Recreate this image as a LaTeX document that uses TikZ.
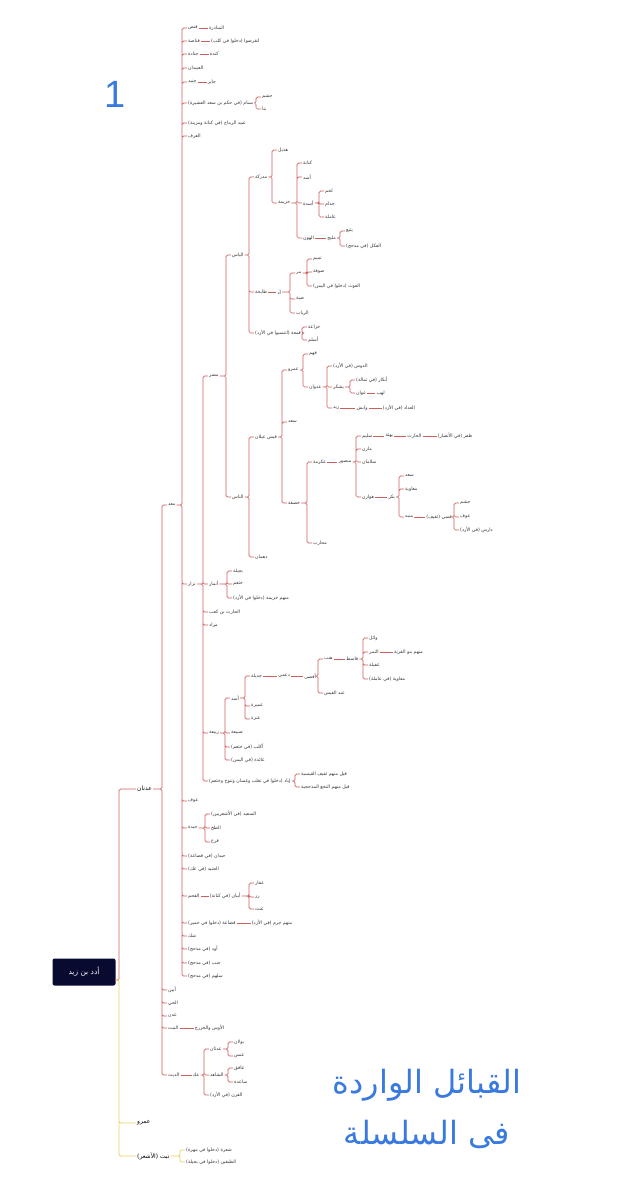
\documentclass[tikz,border=0pt]{standalone}
\usepackage{fontspec}
\newfontfamily\arabicfont[Script=Arabic]{DejaVu Sans}
\newfontfamily\latinfont{Liberation Sans}
\TeXXeTstate=1
\usetikzlibrary{positioning}
\definecolor{TRed}{RGB}{204,96,92}
\definecolor{TYellow}{RGB}{232,210,100}
\definecolor{TNavy}{RGB}{8,10,48}
\definecolor{TBlue}{RGB}{58,122,222}
\newcommand{\ar}[1]{\beginR#1\endR}
\tikzset{
	link/.style={draw=TRed, line width=0.7pt, rounded corners=1.5pt},
	ylink/.style={draw=TYellow, line width=0.9pt, rounded corners=1.5pt},
	lab/.style={anchor=west, inner sep=1pt, text=black!80, font=\arabicfont\fontsize{4.7}{5}\selectfont},
	toplab/.style={anchor=west, inner sep=1pt, text=black, font=\arabicfont\fontsize{6}{7}\selectfont},
	rootbox/.style={fill=TNavy, rounded corners=2pt, minimum width=63pt, minimum height=27pt, text=white, font=\arabicfont\fontsize{7.5}{9}\selectfont},
	title/.style={text=TBlue, font=\arabicfont\fontsize{32}{38}\selectfont}
}
\begin{document}
\begin{tikzpicture}[x=1pt, y=-1pt, node distance=11pt]
	\fill[white] (0,0) rectangle (634,1200);
	\useasboundingbox (0,0) rectangle (634,1200);
	\node[text=TBlue, font=\latinfont\fontsize{38}{40}\selectfont] (num) at (115,94) {1};
	\node[title] (t1) at (427,1085) {\ar{القبائل الواردة}};
	\node[title] (t2) at (427,1134) {\ar{فى السلسلة}};
	% root
	\node[rootbox] (root) at (84,972) {\ar{أدد بن زيد}};
	\node[toplab] (adnan) at (136,789) {\ar{عدنان}};
	\node[toplab] (amr0) at (136,1123) {\ar{عمرو}};
	\node[toplab] (nabt) at (136,1156) {\ar{نبت (الأشعر)}};
	\node[lab] (shara) at (185,1150) {\ar{شعرة (دخلوا في مهرة)}};
	\node[lab] (tabaq) at (185,1162) {\ar{الطبقين (دخلوا في بجيلة)}};
	% adnan
	\node[lab] (maad) at (167,505) {\ar{معد}};
	\node[lab] (abyan) at (167,990) {\ar{أبين}};
	\node[lab] (hayy) at (167,1003) {\ar{الحي}};
	\node[lab] (adan) at (167,1016) {\ar{عدن}};
	\node[lab] (nbt) at (167,1028) {\ar{النبت}};
	\node[lab, right=14pt of nbt] (aws) {\ar{الأوس والخزرج}};
	\node[lab] (dith) at (167,1075) {\ar{الديث}};
	\node[lab, right=of dith] (akk) {\ar{عك}};
	\node[lab] (adthan) at (209,1049) {\ar{عدثان}};
	\node[lab] (shahid) at (209,1075) {\ar{الشاهد}};
	\node[lab] (qarn) at (209,1095) {\ar{القرن (في الأزد)}};
	\node[lab] (bawlan) at (233,1042) {\ar{بولان}};
	\node[lab] (ans) at (233,1056) {\ar{عنس}};
	\node[lab] (ghafiq) at (233,1068) {\ar{غافق}};
	\node[lab] (saida) at (233,1082) {\ar{ساعدة}};
	% maad
	\node[lab] (qunus) at (187,28) {\ar{قنص}};
	\node[lab, right=9pt of qunus] (mnadhira) {\ar{المناذرة}};
	\node[lab] (qunasa) at (187,41) {\ar{قناصة}};
	\node[lab, right=9pt of qunasa] (kalb) {\ar{انقرضوا (دخلوا في كلب)}};
	\node[lab] (janada) at (187,54) {\ar{جنادة}};
	\node[lab, right=9pt of janada] (kinda) {\ar{كندة}};
	\node[lab] (ubaydan) at (187,68) {\ar{العبيدان}};
	\node[lab] (junayd) at (187,82) {\ar{جنيد}};
	\node[lab, right=9pt of junayd] (jabir) {\ar{جابر}};
	\node[lab] (sanam) at (187,103) {\ar{سنام (في حكم بن سعد العشيرة)}};
	\node[lab] (jusham) at (261,97) {\ar{جشم}};
	\node[lab] (bana) at (261,109) {\ar{بنا}};
	\node[lab] (ubayd) at (187,123) {\ar{عبيد الرماح (في كنانة ومزينة)}};
	\node[lab] (urf) at (187,136) {\ar{العرف}};
	\node[lab] (nizar) at (187,584) {\ar{نزار}};
	\node[lab] (awf) at (187,801) {\ar{عوف}};
	\node[lab] (hayda) at (187,828) {\ar{حيدة}};
	\node[lab] (saeed) at (210,814) {\ar{السعيد (في الأشعريين)}};
	\node[lab] (takh) at (210,828) {\ar{الطخ}};
	\node[lab] (qara) at (210,842) {\ar{قرع}};
	\node[lab] (haydan) at (187,856) {\ar{حيدان (في قضاعة)}};
	\node[lab] (jnayd) at (187,869) {\ar{الجنيد (في عك)}};
	\node[lab] (qahm) at (187,896) {\ar{القحم}};
	\node[lab, right=8pt of qahm] (abyanq) {\ar{أبيان (في كنانة)}};
	\node[lab] (ghifar) at (254,883) {\ar{غفار}};
	\node[lab] (razz) at (254,897) {\ar{رز}};
	\node[lab] (ghanth) at (254,909) {\ar{غنث}};
	\node[lab] (qudaa) at (187,923) {\ar{قضاعة (دخلوا في حمير)}};
	\node[lab, right=14pt of qudaa] (jarm) {\ar{منهم جرم (في الأزد)}};
	\node[lab] (shakk) at (187,936) {\ar{شك}};
	\node[lab] (awd) at (187,949) {\ar{أود (في مذحج)}};
	\node[lab] (janb) at (187,963) {\ar{جنب (في مذحج)}};
	\node[lab] (salham) at (187,976) {\ar{سلهم (في مذحج)}};
	% nizar
	\node[lab] (mudar) at (208,376) {\ar{مضر}};
	\node[lab] (anmar) at (208,584) {\ar{أنمار}};
	\node[lab] (bajila) at (232,571) {\ar{بجيلة}};
	\node[lab] (khatham) at (232,584) {\ar{خثعم}};
	\node[lab] (khuzaymaA) at (232,598) {\ar{منهم خزيمة (دخلوا في الأزد)}};
	\node[lab] (harithk) at (208,612) {\ar{الحارث بن كعب}};
	\node[lab] (murad) at (208,625) {\ar{مراد}};
	\node[lab] (rabia) at (208,733) {\ar{ربيعة}};
	\node[lab] (iyad) at (208,781) {\ar{إياد (دخلوا في تغلب وغسان وتنوخ وخثعم)}};
	\node[lab] (qilth) at (300,774) {\ar{قيل منهم ثقيف القيسية}};
	\node[lab] (qiln) at (300,787) {\ar{قيل منهم النخع المذحجية}};
	% rabia
	\node[lab] (asadr) at (230,698) {\ar{أسد}};
	\node[lab] (dubaya) at (230,733) {\ar{ضبيعة}};
	\node[lab] (aklub) at (230,747) {\ar{أكلب (في خثعم)}};
	\node[lab] (aidha) at (230,760) {\ar{عائذة (في اليمن)}};
	\node[lab] (jadila) at (250,676) {\ar{جديلة}};
	\node[lab] (umayra) at (250,706) {\ar{عميرة}};
	\node[lab] (anaza) at (250,719) {\ar{عنزة}};
	\node[lab, right=14pt of jadila] (dumi) {\ar{دعمي}};
	\node[lab, right=12pt of dumi] (afsa) {\ar{أفصى}};
	\node[lab] (hinb) at (323,659) {\ar{هنب}};
	\node[lab] (abdq) at (323,693) {\ar{عبد القيس}};
	\node[lab, right=11pt of hinb] (qasit) {\ar{قاسط}};
	\node[lab] (wail) at (368,638) {\ar{وائل}};
	\node[lab] (namir) at (368,652) {\ar{النمر}};
	\node[lab] (ghufayla) at (368,665) {\ar{غفيلة}};
	\node[lab] (muawq) at (368,679) {\ar{معاوية (في عاملة)}};
	\node[lab, right=13pt of namir] (qarya) {\ar{منهم بنو القرية}};
	% mudar
	\node[lab] (ilyas) at (231,255) {\ar{الياس}};
	\node[lab] (nas) at (231,497) {\ar{الناس}};
	\node[lab] (mudrika) at (254,177) {\ar{مدركة}};
	\node[lab] (tabikha) at (254,292) {\ar{طابخة}};
	\node[lab] (qama) at (254,333) {\ar{قمعة (انتسبوا في الأزد)}};
	\node[lab] (hudhayl) at (277,150) {\ar{هذيل}};
	\node[lab] (khuzayma) at (277,203) {\ar{خزيمة}};
	\node[lab] (kinana) at (302,163) {\ar{كنانة}};
	\node[lab] (asad) at (302,177) {\ar{أسد}};
	\node[lab] (asada) at (302,203) {\ar{أسدة}};
	\node[lab] (hun) at (302,238) {\ar{الهون}};
	\node[lab] (lakhm) at (324,191) {\ar{لخم}};
	\node[lab] (judham) at (324,204) {\ar{جذام}};
	\node[lab] (amila) at (324,217) {\ar{عاملة}};
	\node[lab, right=of hun] (mulayh) {\ar{مليح}};
	\node[lab] (yuthay) at (345,231) {\ar{يثيع}};
	\node[lab] (akl) at (345,246) {\ar{العكل (في مذحج)}};
	\node[lab, right=8pt of tabikha] (udd) {\ar{أد}};
	\node[lab] (murr) at (295,273) {\ar{مر}};
	\node[lab] (dabba) at (295,299) {\ar{ضبة}};
	\node[lab] (ribab) at (295,313) {\ar{الرباب}};
	\node[lab] (tamim) at (312,259) {\ar{تميم}};
	\node[lab] (sufa) at (312,272) {\ar{صوفة}};
	\node[lab] (ghawth) at (312,286) {\ar{الغوث (دخلوا في اليمن)}};
	\node[lab] (khuzaa) at (307,327) {\ar{خزاعة}};
	\node[lab] (aslam) at (307,340) {\ar{أسلم}};
	% nas
	\node[lab] (qays) at (254,437) {\ar{قيس عيلان}};
	\node[lab] (duhman) at (254,557) {\ar{دهمان}};
	\node[lab] (amr) at (287,370) {\ar{عمرو}};
	\node[lab] (saad) at (287,422) {\ar{سعد}};
	\node[lab] (khasafa) at (287,503) {\ar{خصفة}};
	\node[lab] (fahm) at (308,354) {\ar{فهم}};
	\node[lab] (adwan) at (308,387) {\ar{عدوان}};
	\node[lab] (daws) at (332,366) {\ar{الدوس (في الأزد)}};
	\node[lab] (yashkur) at (332,387) {\ar{يشكر}};
	\node[lab] (zayd) at (332,408) {\ar{زيد}};
	\node[lab] (abkar) at (355,380) {\ar{أبكار (في ثمالة)}};
	\node[lab] (awan) at (355,393) {\ar{عوان}};
	\node[lab, right=8pt of awan] (lahab) {\ar{لهب}};
	\node[lab, right=15pt of zayd] (wabish) {\ar{وابش}};
	\node[lab, right=13pt of wabish] (adad) {\ar{العداد (في الأزد)}};
	\node[lab] (ikrima) at (312,462) {\ar{عكرمة}};
	\node[lab] (muharib) at (312,543) {\ar{محارب}};
	\node[lab, right=10pt of ikrima] (mansur) {\ar{منصور}};
	\node[lab] (sulaym) at (361,436) {\ar{سليم}};
	\node[lab] (mazin) at (361,449) {\ar{مازن}};
	\node[lab] (salaman) at (361,462) {\ar{سلامان}};
	\node[lab] (hawazin) at (361,497) {\ar{هوازن}};
	\node[lab, right=of sulaym] (buhtha) {\ar{بهثة}};
	\node[lab, right=12pt of buhtha] (harith) {\ar{الحارث}};
	\node[lab, right=14pt of harith] (zafar) {\ar{ظفر (في الأنصار)}};
	\node[lab, right=12pt of hawazin] (bakr) {\ar{بكر}};
	\node[lab] (saadb) at (404,476) {\ar{سعد}};
	\node[lab] (muawiya) at (404,489) {\ar{معاوية}};
	\node[lab] (munabbih) at (404,517) {\ar{منبه}};
	\node[lab, right=11pt of munabbih] (qasiy) {\ar{قسي (ثقيف)}};
	\node[lab] (jushamt) at (459,503) {\ar{جشم}};
	\node[lab] (awft) at (459,517) {\ar{عوف}};
	\node[lab] (daris) at (459,530) {\ar{دارس (في الأزد)}};

	% connectors
	\draw[link] ([yshift=-8pt]root.east) -| ([xshift=-17pt]adnan.west) -- (adnan.west);
	\draw[ylink] ([yshift=-8pt]root.east) -| ([xshift=-17pt]amr0.west) -- (amr0.west)
		([yshift=-8pt]root.east) -| ([xshift=-17pt]nabt.west) -- (nabt.west);
	\draw[ylink] (nabt.east) -| ([xshift=-5pt]shara.west) -- (shara.west)
		(nabt.east) -| ([xshift=-5pt]tabaq.west) -- (tabaq.west);
	\draw[link] (adnan.east) -| ([xshift=-5pt]maad.west) -- (maad.west)
		(adnan.east) -| ([xshift=-5pt]abyan.west) -- (abyan.west)
		(adnan.east) -| ([xshift=-5pt]hayy.west) -- (hayy.west)
		(adnan.east) -| ([xshift=-5pt]adan.west) -- (adan.west)
		(adnan.east) -| ([xshift=-5pt]nbt.west) -- (nbt.west)
		(adnan.east) -| ([xshift=-5pt]dith.west) -- (dith.west);
	\draw[link] (nbt) -- (aws);
	\draw[link] (dith) -- (akk);
	\draw[link] (akk.east) -| ([xshift=-5pt]adthan.west) -- (adthan.west)
		(akk.east) -| ([xshift=-5pt]shahid.west) -- (shahid.west)
		(akk.east) -| ([xshift=-5pt]qarn.west) -- (qarn.west);
	\draw[link] (adthan.east) -| ([xshift=-5pt]bawlan.west) -- (bawlan.west)
		(adthan.east) -| ([xshift=-5pt]ans.west) -- (ans.west);
	\draw[link] (shahid.east) -| ([xshift=-5pt]ghafiq.west) -- (ghafiq.west)
		(shahid.east) -| ([xshift=-5pt]saida.west) -- (saida.west);
	\draw[link] (maad.east) -| ([xshift=-5pt]qunus.west) -- (qunus.west)
		(maad.east) -| ([xshift=-5pt]qunasa.west) -- (qunasa.west)
		(maad.east) -| ([xshift=-5pt]janada.west) -- (janada.west)
		(maad.east) -| ([xshift=-5pt]ubaydan.west) -- (ubaydan.west)
		(maad.east) -| ([xshift=-5pt]junayd.west) -- (junayd.west)
		(maad.east) -| ([xshift=-5pt]sanam.west) -- (sanam.west)
		(maad.east) -| ([xshift=-5pt]ubayd.west) -- (ubayd.west)
		(maad.east) -| ([xshift=-5pt]urf.west) -- (urf.west)
		(maad.east) -| ([xshift=-5pt]nizar.west) -- (nizar.west)
		(maad.east) -| ([xshift=-5pt]awf.west) -- (awf.west)
		(maad.east) -| ([xshift=-5pt]hayda.west) -- (hayda.west)
		(maad.east) -| ([xshift=-5pt]haydan.west) -- (haydan.west)
		(maad.east) -| ([xshift=-5pt]jnayd.west) -- (jnayd.west)
		(maad.east) -| ([xshift=-5pt]qahm.west) -- (qahm.west)
		(maad.east) -| ([xshift=-5pt]qudaa.west) -- (qudaa.west)
		(maad.east) -| ([xshift=-5pt]shakk.west) -- (shakk.west)
		(maad.east) -| ([xshift=-5pt]awd.west) -- (awd.west)
		(maad.east) -| ([xshift=-5pt]janb.west) -- (janb.west)
		(maad.east) -| ([xshift=-5pt]salham.west) -- (salham.west);
	\draw[link] (qunus) -- (mnadhira);
	\draw[link] (qunasa) -- (kalb);
	\draw[link] (janada) -- (kinda);
	\draw[link] (junayd) -- (jabir);
	\draw[link] (sanam.east) -| ([xshift=-5pt]jusham.west) -- (jusham.west)
		(sanam.east) -| ([xshift=-5pt]bana.west) -- (bana.west);
	\draw[link] (hayda.east) -| ([xshift=-5pt]saeed.west) -- (saeed.west)
		(hayda.east) -| ([xshift=-5pt]takh.west) -- (takh.west)
		(hayda.east) -| ([xshift=-5pt]qara.west) -- (qara.west);
	\draw[link] (qahm) -- (abyanq);
	\draw[link] (abyanq.east) -| ([xshift=-5pt]ghifar.west) -- (ghifar.west)
		(abyanq.east) -| ([xshift=-5pt]razz.west) -- (razz.west)
		(abyanq.east) -| ([xshift=-5pt]ghanth.west) -- (ghanth.west);
	\draw[link] (qudaa) -- (jarm);
	\draw[link] (nizar.east) -| ([xshift=-5pt]mudar.west) -- (mudar.west)
		(nizar.east) -| ([xshift=-5pt]anmar.west) -- (anmar.west)
		(nizar.east) -| ([xshift=-5pt]harithk.west) -- (harithk.west)
		(nizar.east) -| ([xshift=-5pt]murad.west) -- (murad.west)
		(nizar.east) -| ([xshift=-5pt]rabia.west) -- (rabia.west)
		(nizar.east) -| ([xshift=-5pt]iyad.west) -- (iyad.west);
	\draw[link] (anmar.east) -| ([xshift=-5pt]bajila.west) -- (bajila.west)
		(anmar.east) -| ([xshift=-5pt]khatham.west) -- (khatham.west)
		(anmar.east) -| ([xshift=-5pt]khuzaymaA.west) -- (khuzaymaA.west);
	\draw[link] (iyad.east) -| ([xshift=-5pt]qilth.west) -- (qilth.west)
		(iyad.east) -| ([xshift=-5pt]qiln.west) -- (qiln.west);
	\draw[link] (rabia.east) -| ([xshift=-5pt]asadr.west) -- (asadr.west)
		(rabia.east) -| ([xshift=-5pt]dubaya.west) -- (dubaya.west)
		(rabia.east) -| ([xshift=-5pt]aklub.west) -- (aklub.west)
		(rabia.east) -| ([xshift=-5pt]aidha.west) -- (aidha.west);
	\draw[link] (asadr.east) -| ([xshift=-5pt]jadila.west) -- (jadila.west)
		(asadr.east) -| ([xshift=-5pt]umayra.west) -- (umayra.west)
		(asadr.east) -| ([xshift=-5pt]anaza.west) -- (anaza.west);
	\draw[link] (jadila) -- (dumi);
	\draw[link] (dumi) -- (afsa);
	\draw[link] (afsa.east) -| ([xshift=-5pt]hinb.west) -- (hinb.west)
		(afsa.east) -| ([xshift=-5pt]abdq.west) -- (abdq.west);
	\draw[link] (hinb) -- (qasit);
	\draw[link] (qasit.east) -| ([xshift=-5pt]wail.west) -- (wail.west)
		(qasit.east) -| ([xshift=-5pt]namir.west) -- (namir.west)
		(qasit.east) -| ([xshift=-5pt]ghufayla.west) -- (ghufayla.west)
		(qasit.east) -| ([xshift=-5pt]muawq.west) -- (muawq.west);
	\draw[link] (namir) -- (qarya);
	\draw[link] (mudar.east) -| ([xshift=-5pt]ilyas.west) -- (ilyas.west)
		(mudar.east) -| ([xshift=-5pt]nas.west) -- (nas.west);
	\draw[link] (ilyas.east) -| ([xshift=-5pt]mudrika.west) -- (mudrika.west)
		(ilyas.east) -| ([xshift=-5pt]tabikha.west) -- (tabikha.west)
		(ilyas.east) -| ([xshift=-5pt]qama.west) -- (qama.west);
	\draw[link] (mudrika.east) -| ([xshift=-5pt]hudhayl.west) -- (hudhayl.west)
		(mudrika.east) -| ([xshift=-5pt]khuzayma.west) -- (khuzayma.west);
	\draw[link] (khuzayma.east) -| ([xshift=-5pt]kinana.west) -- (kinana.west)
		(khuzayma.east) -| ([xshift=-5pt]asad.west) -- (asad.west)
		(khuzayma.east) -| ([xshift=-5pt]asada.west) -- (asada.west)
		(khuzayma.east) -| ([xshift=-5pt]hun.west) -- (hun.west);
	\draw[link] (asada.east) -| ([xshift=-5pt]lakhm.west) -- (lakhm.west)
		(asada.east) -| ([xshift=-5pt]judham.west) -- (judham.west)
		(asada.east) -| ([xshift=-5pt]amila.west) -- (amila.west);
	\draw[link] (hun) -- (mulayh);
	\draw[link] (mulayh.east) -| ([xshift=-5pt]yuthay.west) -- (yuthay.west)
		(mulayh.east) -| ([xshift=-5pt]akl.west) -- (akl.west);
	\draw[link] (tabikha) -- (udd);
	\draw[link] (udd.east) -| ([xshift=-5pt]murr.west) -- (murr.west)
		(udd.east) -| ([xshift=-5pt]dabba.west) -- (dabba.west)
		(udd.east) -| ([xshift=-5pt]ribab.west) -- (ribab.west);
	\draw[link] (murr.east) -| ([xshift=-5pt]tamim.west) -- (tamim.west)
		(murr.east) -| ([xshift=-5pt]sufa.west) -- (sufa.west)
		(murr.east) -| ([xshift=-5pt]ghawth.west) -- (ghawth.west);
	\draw[link] (qama.east) -| ([xshift=-5pt]khuzaa.west) -- (khuzaa.west)
		(qama.east) -| ([xshift=-5pt]aslam.west) -- (aslam.west);
	\draw[link] (nas.east) -| ([xshift=-5pt]qays.west) -- (qays.west)
		(nas.east) -| ([xshift=-5pt]duhman.west) -- (duhman.west);
	\draw[link] (qays.east) -| ([xshift=-5pt]amr.west) -- (amr.west)
		(qays.east) -| ([xshift=-5pt]saad.west) -- (saad.west)
		(qays.east) -| ([xshift=-5pt]khasafa.west) -- (khasafa.west);
	\draw[link] (amr.east) -| ([xshift=-5pt]fahm.west) -- (fahm.west)
		(amr.east) -| ([xshift=-5pt]adwan.west) -- (adwan.west);
	\draw[link] (adwan.east) -| ([xshift=-5pt]daws.west) -- (daws.west)
		(adwan.east) -| ([xshift=-5pt]yashkur.west) -- (yashkur.west)
		(adwan.east) -| ([xshift=-5pt]zayd.west) -- (zayd.west);
	\draw[link] (yashkur.east) -| ([xshift=-5pt]abkar.west) -- (abkar.west)
		(yashkur.east) -| ([xshift=-5pt]awan.west) -- (awan.west);
	\draw[link] (awan) -- (lahab);
	\draw[link] (zayd) -- (wabish);
	\draw[link] (wabish) -- (adad);
	\draw[link] (khasafa.east) -| ([xshift=-5pt]ikrima.west) -- (ikrima.west)
		(khasafa.east) -| ([xshift=-5pt]muharib.west) -- (muharib.west);
	\draw[link] (ikrima) -- (mansur);
	\draw[link] (mansur.east) -| ([xshift=-5pt]sulaym.west) -- (sulaym.west)
		(mansur.east) -| ([xshift=-5pt]mazin.west) -- (mazin.west)
		(mansur.east) -| ([xshift=-5pt]salaman.west) -- (salaman.west)
		(mansur.east) -| ([xshift=-5pt]hawazin.west) -- (hawazin.west);
	\draw[link] (sulaym) -- (buhtha);
	\draw[link] (buhtha) -- (harith);
	\draw[link] (harith) -- (zafar);
	\draw[link] (hawazin) -- (bakr);
	\draw[link] (bakr.east) -| ([xshift=-5pt]saadb.west) -- (saadb.west)
		(bakr.east) -| ([xshift=-5pt]muawiya.west) -- (muawiya.west)
		(bakr.east) -| ([xshift=-5pt]munabbih.west) -- (munabbih.west);
	\draw[link] (munabbih) -- (qasiy);
	\draw[link] (qasiy.east) -| ([xshift=-5pt]jushamt.west) -- (jushamt.west)
		(qasiy.east) -| ([xshift=-5pt]awft.west) -- (awft.west)
		(qasiy.east) -| ([xshift=-5pt]daris.west) -- (daris.west);
\end{tikzpicture}
\end{document}
